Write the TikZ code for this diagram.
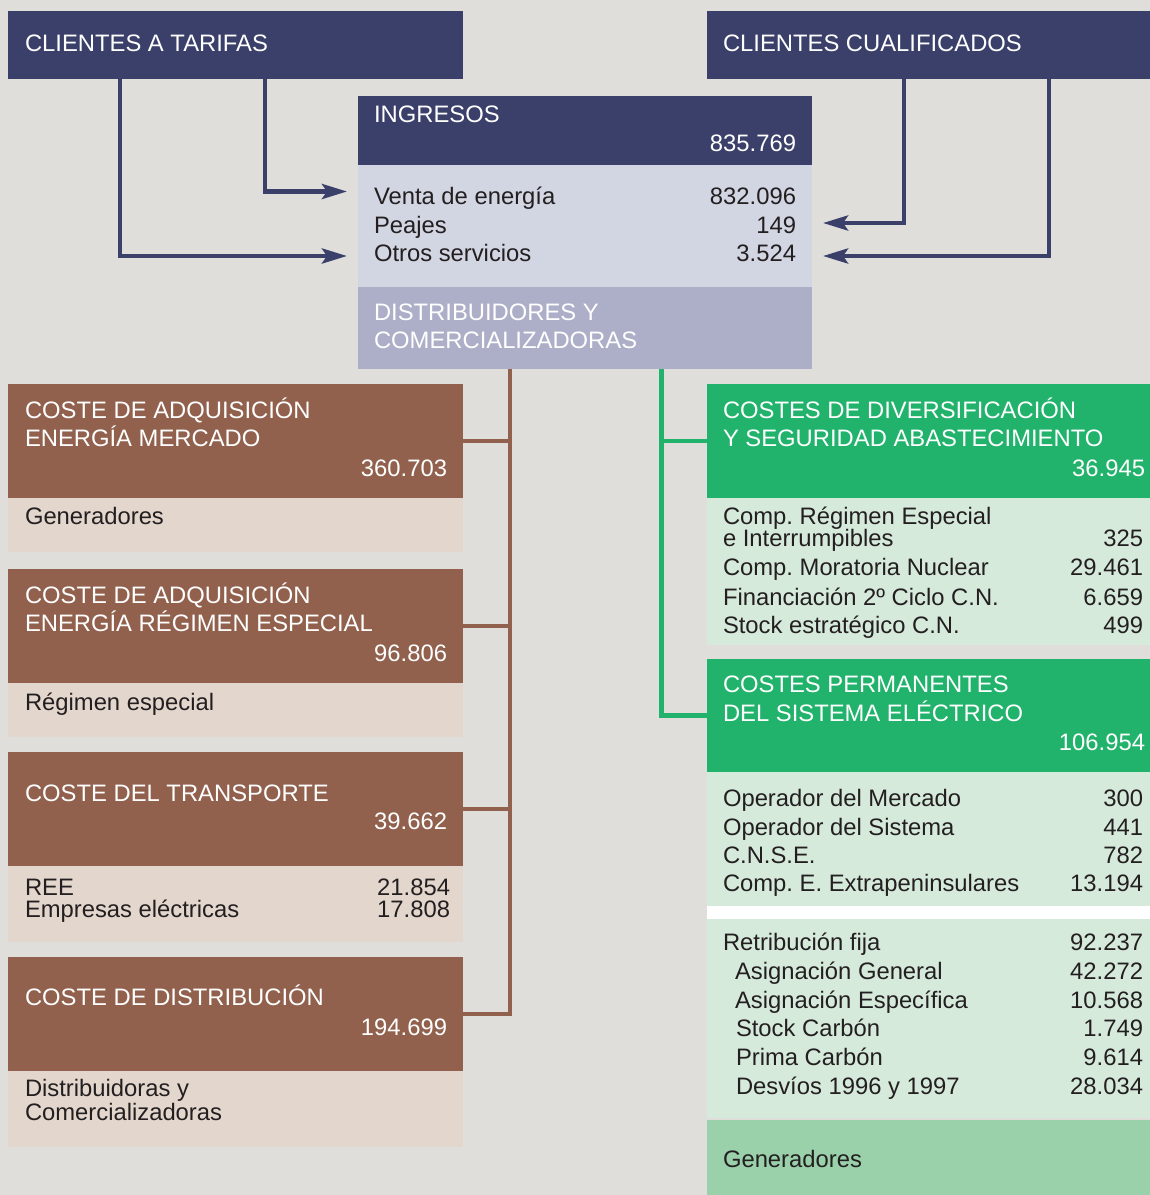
\documentclass[tikz,border=0pt]{standalone}
\usepackage{fontspec}
\setmainfont{Liberation Sans}
\usetikzlibrary{arrows.meta}
\frenchspacing

\definecolor{fondo}{RGB}{223,222,218}
\definecolor{azul}{RGB}{59,64,106}
\definecolor{lila}{RGB}{210,213,226}
\definecolor{lilamed}{RGB}{172,175,199}
\definecolor{marron}{RGB}{145,97,78}
\definecolor{beige}{RGB}{227,214,205}
\definecolor{verde}{RGB}{33,179,108}
\definecolor{verdeclaro}{RGB}{214,234,220}
\definecolor{verdemed}{RGB}{154,209,171}
\definecolor{texto}{RGB}{35,31,32}

\tikzset{
  caja/.style={rectangle, inner sep=0pt, outer sep=0pt, anchor=north west},
  lbl/.style={inner sep=0pt, outer sep=0pt, anchor=base west, text=texto,
    font=\fontsize{23.8}{28}\selectfont},
  val/.style={lbl, anchor=base east},
  blanco/.style={text=white},
  lineaazul/.style={draw=azul, line width=4.5pt,
    -{Stealth[length=25pt,width=15pt,inset=5pt]}},
  lineamarron/.style={draw=marron, line width=4.5pt},
  lineaverde/.style={draw=verde, line width=4.5pt}
}

\begin{document}
\begin{tikzpicture}[x=1pt,y=-1pt]
      \fill[fondo] (0,0) rectangle (1150,1195);
      % clientes
      \node[caja, fill=azul, minimum width=455pt, minimum height=68pt] (tarifas) at (8,11) {};
      \node[caja, fill=azul, minimum width=443pt, minimum height=68pt] (cualif) at (707,11) {};
      \node[lbl, blanco] (ttar) at (25,51) {CLIENTES A TARIFAS};
      \node[lbl, blanco] (tcua) at (723,51) {CLIENTES CUALIFICADOS};
      % ingresos
      \node[caja, fill=azul, minimum width=454pt, minimum height=69pt] (ingcab) at (358,96) {};
      \node[caja, fill=lila, minimum width=454pt, minimum height=122pt] (ingcue) at (358,165) {};
      \node[caja, fill=lilamed, minimum width=454pt, minimum height=82pt] (distr) at (358,287) {};
      \node[lbl, blanco] (ting) at (374,122.5) {INGRESOS};
      \node[val, blanco] (ning) at (796,151.5) {835.769};
      \node[lbl] (tventa) at (374,204) {Venta de energía};
      \node[val] (nventa) at (796,204) {832.096};
      \node[lbl] (tpeaj) at (374,233) {Peajes};
      \node[val] (npeaj) at (796,233) {149};
      \node[lbl] (totros) at (374,261.5) {Otros servicios};
      \node[val] (notros) at (796,261.5) {3.524};
      \node[lbl, blanco] (tdis1) at (374,320) {DISTRIBUIDORES Y};
      \node[lbl, blanco] (tdis2) at (374,348.3) {COMERCIALIZADORAS};
      % flechas de clientes
      \coordinate (venta) at (347,191.5);
      \coordinate (otrosizq) at (347,256);
      \coordinate (peajes) at (823,223);
      \coordinate (otrosder) at (823,256);
      \draw[lineaazul] ([xshift=257pt]tarifas.south west) |- (venta);
      \draw[lineaazul] ([xshift=112pt]tarifas.south west) |- (otrosizq);
      \draw[lineaazul] ([xshift=197pt]cualif.south west) |- (peajes);
      \draw[lineaazul] ([xshift=342pt]cualif.south west) |- (otrosder);
      % costes (marron)
      \node[caja, fill=marron, minimum width=455pt, minimum height=114pt] (merc) at (8,384) {};
      \node[caja, fill=beige, minimum width=455pt, minimum height=54pt] (mercsub) at (8,498) {};
      \node[caja, fill=marron, minimum width=455pt, minimum height=114pt] (resp) at (8,569) {};
      \node[caja, fill=beige, minimum width=455pt, minimum height=54pt] (respsub) at (8,683) {};
      \node[caja, fill=marron, minimum width=455pt, minimum height=114pt] (transp) at (8,752) {};
      \node[caja, fill=beige, minimum width=455pt, minimum height=76pt] (transpsub) at (8,866) {};
      \node[caja, fill=marron, minimum width=455pt, minimum height=114pt] (dist) at (8,957) {};
      \node[caja, fill=beige, minimum width=455pt, minimum height=76pt] (distsub) at (8,1071) {};
      \node[lbl, blanco] (tmerc1) at (25,418.3) {COSTE DE ADQUISICIÓN};
      \node[lbl, blanco] (tmerc2) at (25,446.7) {ENERGÍA MERCADO};
      \node[val, blanco] (nmerc) at (447,476) {360.703};
      \node[lbl] (tgen1) at (25,524) {Generadores};
      \node[lbl, blanco] (tresp1) at (25,603.3) {COSTE DE ADQUISICIÓN};
      \node[lbl, blanco] (tresp2) at (25,631.7) {ENERGÍA RÉGIMEN ESPECIAL};
      \node[val, blanco] (nresp) at (447,661) {96.806};
      \node[lbl] (tregesp) at (25,710) {Régimen especial};
      \node[lbl, blanco] (ttransp) at (25,801) {COSTE DEL TRANSPORTE};
      \node[val, blanco] (ntransp) at (447,829.3) {39.662};
      \node[lbl] (tree) at (25,895) {REE};
      \node[val] (nree) at (450,895) {21.854};
      \node[lbl] (temp) at (25,917.3) {Empresas eléctricas};
      \node[val] (nemp) at (450,917.3) {17.808};
      \node[lbl, blanco] (tdist) at (25,1005) {COSTE DE DISTRIBUCIÓN};
      \node[val, blanco] (ndist) at (447,1035) {194.699};
      \node[lbl] (tdc1) at (25,1096.7) {Distribuidoras y};
      \node[lbl] (tdc2) at (25,1120) {Comercializadoras};
      % costes (verde)
      \node[caja, fill=verde, minimum width=443pt, minimum height=114pt] (divers) at (707,384) {};
      \node[caja, fill=verdeclaro, minimum width=443pt, minimum height=147pt] (diverssub) at (707,498) {};
      \node[caja, fill=verde, minimum width=443pt, minimum height=113pt] (perm) at (707,659) {};
      \node[caja, fill=verdeclaro, minimum width=443pt, minimum height=134pt] (permsub) at (707,772) {};
      \node[caja, fill=white, minimum width=443pt, minimum height=13pt] (franja) at (707,906) {};
      \node[caja, fill=verdeclaro, minimum width=443pt, minimum height=199pt] (permfija) at (707,919) {};
      \node[caja, fill=verdemed, minimum width=443pt, minimum height=75pt] (gener) at (707,1120) {};
      \node[lbl, blanco] (tdiv1) at (723,418.3) {COSTES DE DIVERSIFICACIÓN};
      \node[lbl, blanco] (tdiv2) at (723,446.7) {Y SEGURIDAD ABASTECIMIENTO};
      \node[val, blanco] (ndiv) at (1145,476) {36.945};
      \node[lbl] (tcre1) at (723,524) {Comp. Régimen Especial};
      \node[lbl] (tcre2) at (723,546.7) {e Interrumpibles};
      \node[val] (ncre) at (1143,546.7) {325};
      \node[lbl] (tmor) at (723,575) {Comp. Moratoria Nuclear};
      \node[val] (nmor) at (1143,575) {29.461};
      \node[lbl] (tfin) at (723,605) {Financiación 2º Ciclo C.N.};
      \node[val] (nfin) at (1143,605) {6.659};
      \node[lbl] (tstk) at (723,633.3) {Stock estratégico C.N.};
      \node[val] (nstk) at (1143,633.3) {499};
      \node[lbl, blanco] (tperm1) at (723,692.7) {COSTES PERMANENTES};
      \node[lbl, blanco] (tperm2) at (723,721.7) {DEL SISTEMA ELÉCTRICO};
      \node[val, blanco] (nperm) at (1145,750.7) {106.954};
      \node[lbl] (tomer) at (723,806) {Operador del Mercado};
      \node[val] (nomer) at (1143,806) {300};
      \node[lbl] (tosis) at (723,835) {Operador del Sistema};
      \node[val] (nosis) at (1143,835) {441};
      \node[lbl] (tcnse) at (723,863.3) {C.N.S.E.};
      \node[val] (ncnse) at (1143,863.3) {782};
      \node[lbl] (text) at (723,891.7) {Comp. E. Extrapeninsulares};
      \node[val] (next) at (1143,891.7) {13.194};
      \node[lbl] (tret) at (723,950) {Retribución fija};
      \node[val] (nret) at (1143,950) {92.237};
      \node[lbl] (tasg) at (735,979) {Asignación General};
      \node[val] (nasg) at (1143,979) {42.272};
      \node[lbl] (tase) at (735,1008.3) {Asignación Específica};
      \node[val] (nase) at (1143,1008.3) {10.568};
      \node[lbl] (tstc) at (736,1036.7) {Stock Carbón};
      \node[val] (nstc) at (1143,1036.7) {1.749};
      \node[lbl] (tprc) at (736,1065) {Prima Carbón};
      \node[val] (nprc) at (1143,1065) {9.614};
      \node[lbl] (tdes) at (736,1094) {Desvíos 1996 y 1997};
      \node[val] (ndes) at (1143,1094) {28.034};
      \node[lbl] (tgen2) at (723,1167.7) {Generadores};
      % troncos
      \coordinate (tronm) at ([xshift=152pt]distr.south west);
      \coordinate (tronv) at ([xshift=303.5pt]distr.south west);
      \draw[lineamarron] (tronm) |- (dist.east);
      \draw[lineamarron] (tronm) |- (merc.east);
      \draw[lineamarron] (tronm) |- (resp.east);
      \draw[lineamarron] (tronm) |- (transp.east);
      \draw[lineaverde] (tronv) |- (perm.west);
      \draw[lineaverde] (tronv) |- (divers.west);
\end{tikzpicture}
\end{document}
